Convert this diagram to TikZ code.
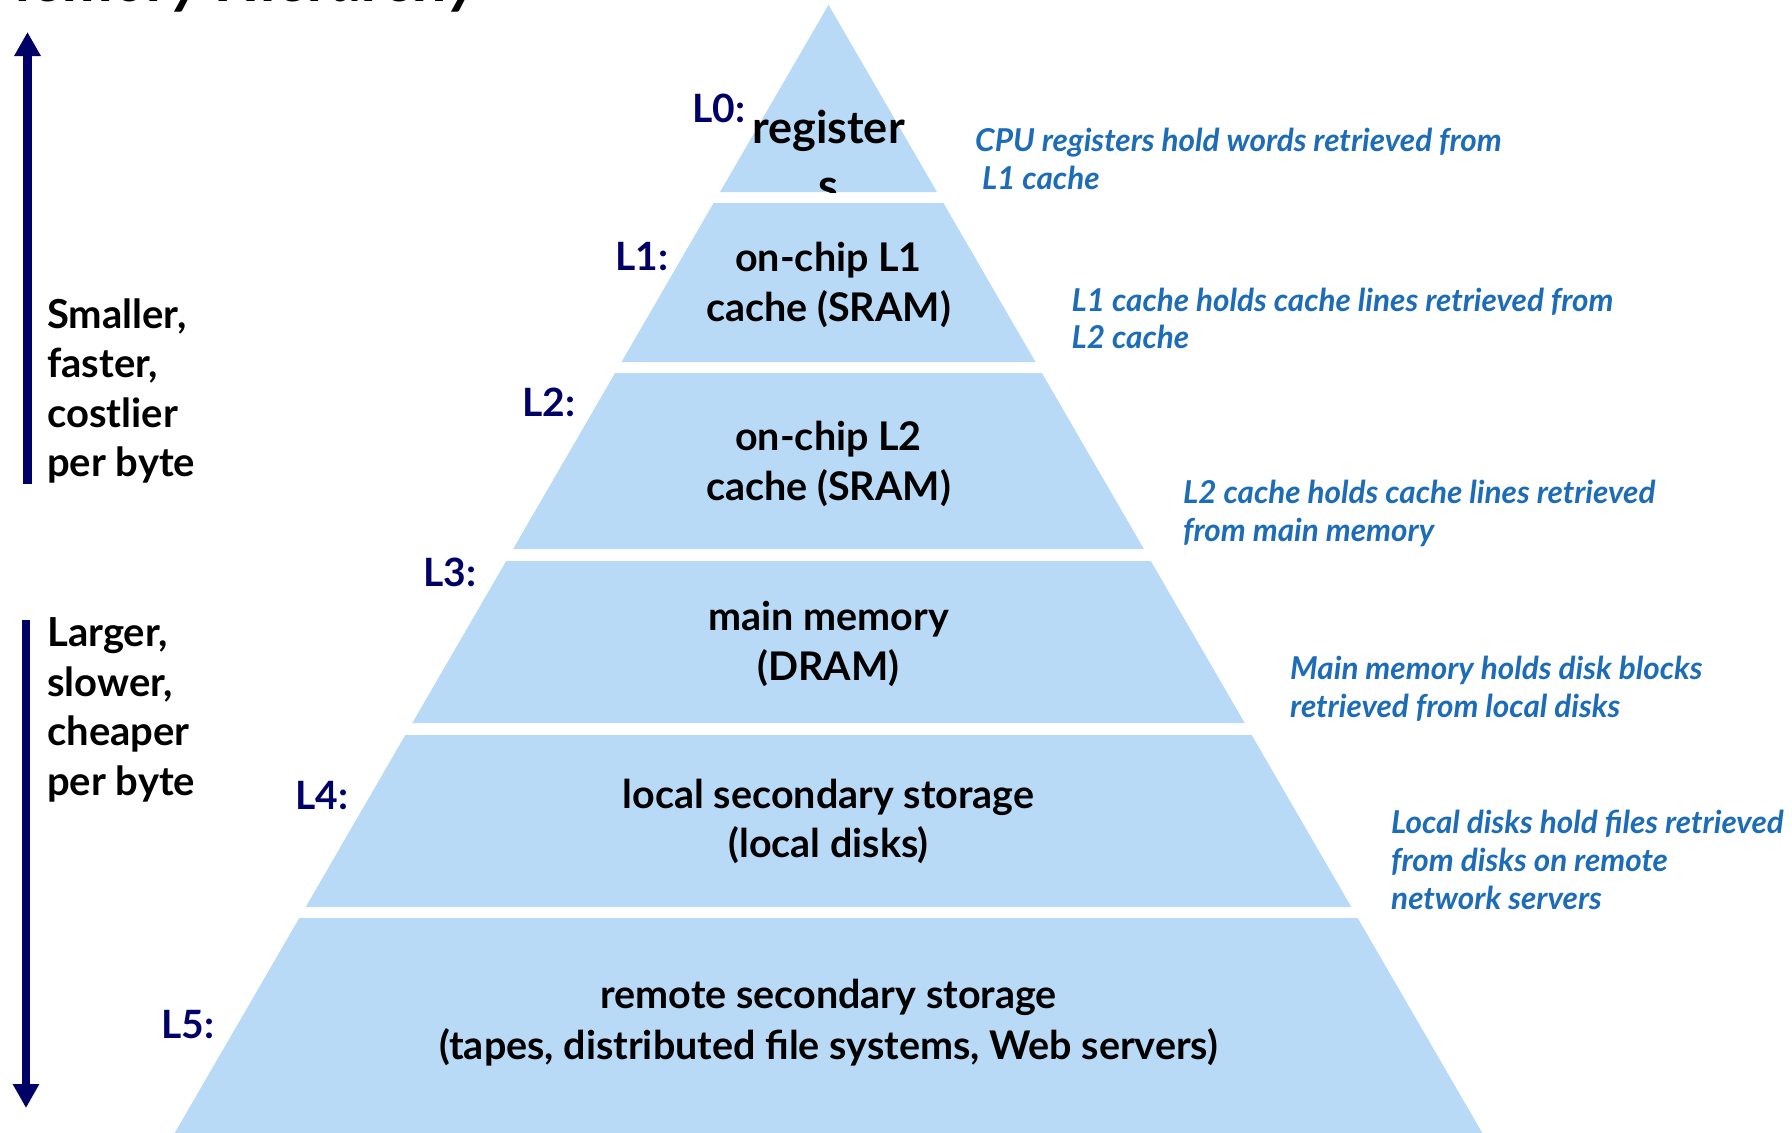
\documentclass[tikz,border=0pt]{standalone}
\usepackage{fontspec}
\setmainfont{Lato}
\usetikzlibrary{arrows.meta}
\definecolor{pyr}{RGB}{184,218,246}
\definecolor{navyc}{RGB}{0,0,102}
\definecolor{descc}{RGB}{28,108,184}
\begin{document}
\begin{tikzpicture}[x=1pt,y=-1pt,
  layerfill/.style={fill=pyr,draw=none},
  lvltext/.style={anchor=base,inner sep=0pt,text=black,font=\fontsize{39.5}{46}\selectfont\bfseries},
  regtext/.style={anchor=base,inner sep=0pt,text=black,font=\fontsize{45}{52}\selectfont\bfseries},
  lvlname/.style={anchor=base west,inner sep=0pt,text=navyc,font=\fontsize{39}{46}\selectfont\bfseries},
  sidetext/.style={anchor=base west,inner sep=0pt,text=black,font=\fontsize{40}{46}\selectfont\bfseries},
  desctext/.style={anchor=base west,inner sep=0pt,text=descc,font=\fontsize{31.5}{38}\selectfont\bfseries\itshape},
  bigarrow/.style={draw=navyc,line width=8.4pt,-{Triangle[length=24pt,width=25pt]}}]
\useasboundingbox (0,0) rectangle (1792,1133);
% title (cut off by the top edge)
\node[anchor=base east,inner sep=0pt,font=\fontsize{64}{76}\selectfont\bfseries\itshape] (title) at (480,1.5) {Memory Hierarchy};
% pyramid layers
\fill[layerfill] (828.5,4.8) -- (937,192) -- (720,192) -- cycle;
\fill[layerfill] (713.6,203) -- (943.4,203) -- (1035.5,362) -- (621.5,362) -- cycle;
\fill[layerfill] (615.1,373) -- (1041.9,373) -- (1143.9,549) -- (513.1,549) -- cycle;
\fill[layerfill] (506.2,561) -- (1150.8,561) -- (1244.7,723) -- (412.3,723) -- cycle;
\fill[layerfill] (405.3,735) -- (1251.7,735) -- (1351.3,907) -- (305.7,907) -- cycle;
\fill[layerfill] (299.3,918) -- (1357.7,918) -- (1482.3,1133) -- (174.7,1133) -- cycle;
% layer texts
\begin{scope}
\clip (0,0) rectangle (1792,192);
\node[regtext] (t0a) at (828.5,143.5) {register};
\node[regtext] (t0b) at (828.5,201) {s};
\end{scope}
\node[lvltext] (t1a) at (828.5,271) {on-chip L1};
\node[lvltext] (t1b) at (828.5,321.7) {cache (SRAM)};
\node[lvltext] (t2a) at (828.5,450) {on-chip L2};
\node[lvltext] (t2b) at (828.5,500) {cache (SRAM)};
\node[lvltext] (t3a) at (828.5,630) {main memory};
\node[lvltext] (t3b) at (828.5,680) {(DRAM)};
\node[lvltext] (t4a) at (828.5,808.3) {local secondary storage};
\node[lvltext] (t4b) at (828.5,857) {(local disks)};
\node[lvltext] (t5a) at (828.5,1008.5) {remote secondary storage};
\node[lvltext] (t5b) at (828.5,1059.5) {(tapes, distributed file systems, Web servers)};
% level names
\node[lvlname] (n0) at (692,122) {L0:};
\node[lvlname] (n1) at (615,270) {L1:};
\node[lvlname] (n2) at (522,416.7) {L2:};
\node[lvlname] (n3) at (423,586) {L3:};
\node[lvlname] (n4) at (295.5,809.3) {L4:};
\node[lvlname] (n5) at (161.5,1038) {L5:};
% side texts
\node[sidetext] (s1) at (47,328) {Smaller,};
\node[sidetext] (s2) at (47,377.5) {faster,};
\node[sidetext] (s3) at (47,427) {costlier};
\node[sidetext] (s4) at (47,476.5) {per byte};
\node[sidetext] (g1) at (47,646.7) {Larger,};
\node[sidetext] (g2) at (47,696) {slower,};
\node[sidetext] (g3) at (47,745.5) {cheaper};
\node[sidetext] (g4) at (47,795) {per byte};
% arrows
\coordinate (upS) at (27.5,484);
\coordinate (upE) at (27.5,32);
\coordinate (dnS) at (26,620);
\coordinate (dnE) at (26,1108);
\draw[bigarrow] (upS) -- (upE);
\draw[bigarrow] (dnS) -- (dnE);
% descriptions
\node[desctext] (d0a) at (975,151.5) {CPU registers hold words retrieved from};
\node[desctext] (d0b) at (975,189) {\ L1 cache};
\node[desctext] (d1a) at (1071.5,311) {L1 cache holds cache lines retrieved from};
\node[desctext] (d1b) at (1071.5,348.5) {L2 cache};
\node[desctext] (d2a) at (1183,503) {L2 cache holds cache lines retrieved};
\node[desctext] (d2b) at (1183,541) {from main memory};
\node[desctext] (d3a) at (1290,679) {Main memory holds disk blocks};
\node[desctext] (d3b) at (1290,717) {retrieved from local disks};
\node[desctext] (d4a) at (1391,833.5) {Local disks hold files retrieved};
\node[desctext] (d4b) at (1391,871) {from disks on remote};
\node[desctext] (d4c) at (1391,909) {network servers};
\end{tikzpicture}
\end{document}
